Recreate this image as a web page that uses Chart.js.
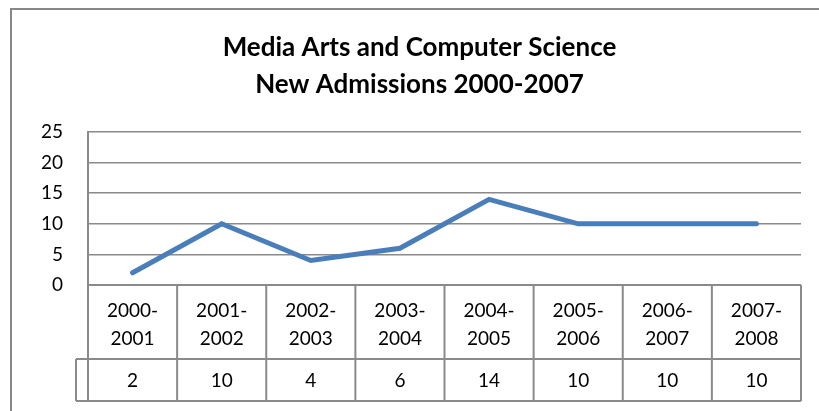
<!DOCTYPE html>
<html>
<head>
<meta charset="utf-8">
<script src="https://cdn.jsdelivr.net/npm/chart.js@4.4.1/dist/chart.umd.min.js"></script>
<style>
html,body{margin:0;padding:0;background:#fff;}
#wrap{width:819px;height:411px;position:relative;}
</style>
</head>
<body>
<div id="wrap"><canvas id="c" width="819" height="411"></canvas></div>
<script>
const titleLines = ['Media Arts and Computer Science', 'New Admissions 2000-2007'];
const categories = ['2000-2001','2001-2002','2002-2003','2003-2004','2004-2005','2005-2006','2006-2007','2007-2008'];
const admissions = [2, 10, 4, 6, 14, 10, 10, 10];
const yTicks = [0, 5, 10, 15, 20, 25];

const FONT = 'Lato, "Open Sans", sans-serif';
const GRID = '#8a8a8a';

const tablePlugin = {
  id: 'dataTable',
  afterDraw(chart) {
    const ctx = chart.ctx;
    const xs = chart.scales.x;
    const area = chart.chartArea;
    const n = categories.length;
    const row1Top = area.bottom;
    const row1Bot = area.bottom + 74;
    const row2Bot = area.bottom + 116;
    const stubLeft = area.left - 12;
    ctx.save();
    // outer chart border
    ctx.strokeStyle = '#888888';
    ctx.lineWidth = 2;
    ctx.beginPath();
    ctx.moveTo(11, 420);
    ctx.lineTo(11, 9);
    ctx.lineTo(830, 9);
    ctx.stroke();

    // title
    ctx.fillStyle = '#000';
    ctx.font = 'bold 26px ' + FONT;
    ctx.textAlign = 'center';
    ctx.textBaseline = 'middle';
    titleLines.forEach((t, i) => ctx.fillText(t, 419.5, 48 + i * 36.5));

    ctx.strokeStyle = GRID;
    ctx.lineWidth = 2;
    ctx.beginPath();
    ctx.moveTo(area.left, row1Top); ctx.lineTo(area.right, row1Top);
    ctx.moveTo(stubLeft, row1Bot); ctx.lineTo(area.right, row1Bot);
    ctx.moveTo(stubLeft, row2Bot); ctx.lineTo(area.right, row2Bot);
    for (let i = 0; i <= n; i++) {
      let x;
      if (i === 0) x = area.left;
      else if (i === n) x = area.right;
      else x = (xs.getPixelForValue(i - 1) + xs.getPixelForValue(i)) / 2;
      ctx.moveTo(x, row1Top); ctx.lineTo(x, row2Bot);
    }
    ctx.moveTo(stubLeft, row1Bot); ctx.lineTo(stubLeft, row2Bot);
    ctx.stroke();

    ctx.fillStyle = '#000';
    ctx.font = '19px ' + FONT;
    ctx.textAlign = 'center';
    ctx.textBaseline = 'middle';
    categories.forEach((c, i) => {
      const x = xs.getPixelForValue(i);
      const parts = c.split('-');
      ctx.fillText(parts[0] + '-', x, row1Top + 26);
      ctx.fillText(parts[1], x, row1Top + 54);
      ctx.fillText(String(admissions[i]), x, row1Top + 96);
    });
    ctx.restore();
  }
};

new Chart(document.getElementById('c'), {
  type: 'line',
  data: {
    labels: categories,
    datasets: [{
      label: 'New Admissions',
      data: admissions,
      borderColor: '#4A7EBB',
      borderWidth: 5,
      pointRadius: 0,
      borderCapStyle: 'round',
      borderJoinStyle: 'miter',
      tension: 0,
      fill: false
    }]
  },
  options: {
    responsive: false,
    animation: false,
    devicePixelRatio: 1,
    layout: { padding: { left: 0, right: 18, top: 132, bottom: 126 } },
    plugins: {
      legend: { display: false },
      tooltip: { enabled: false },
      title: { display: false }
    },
    scales: {
      x: {
        type: 'category',
        offset: true,
        display: false
      },
      y: {
        min: 0,
        max: 25,
        afterFit(scale) { scale.width = 88; },
        afterBuildTicks(scale) { scale.ticks = yTicks.map(v => ({ value: v })); },
        border: { display: true, color: GRID, width: 2 },
        grid: { color: GRID, lineWidth: 1.5, drawTicks: false },
        ticks: {
          color: '#000',
          padding: 25,
          font: { family: FONT, size: 19 }
        }
      }
    }
  },
  plugins: [tablePlugin]
});
</script>
</body>
</html>
